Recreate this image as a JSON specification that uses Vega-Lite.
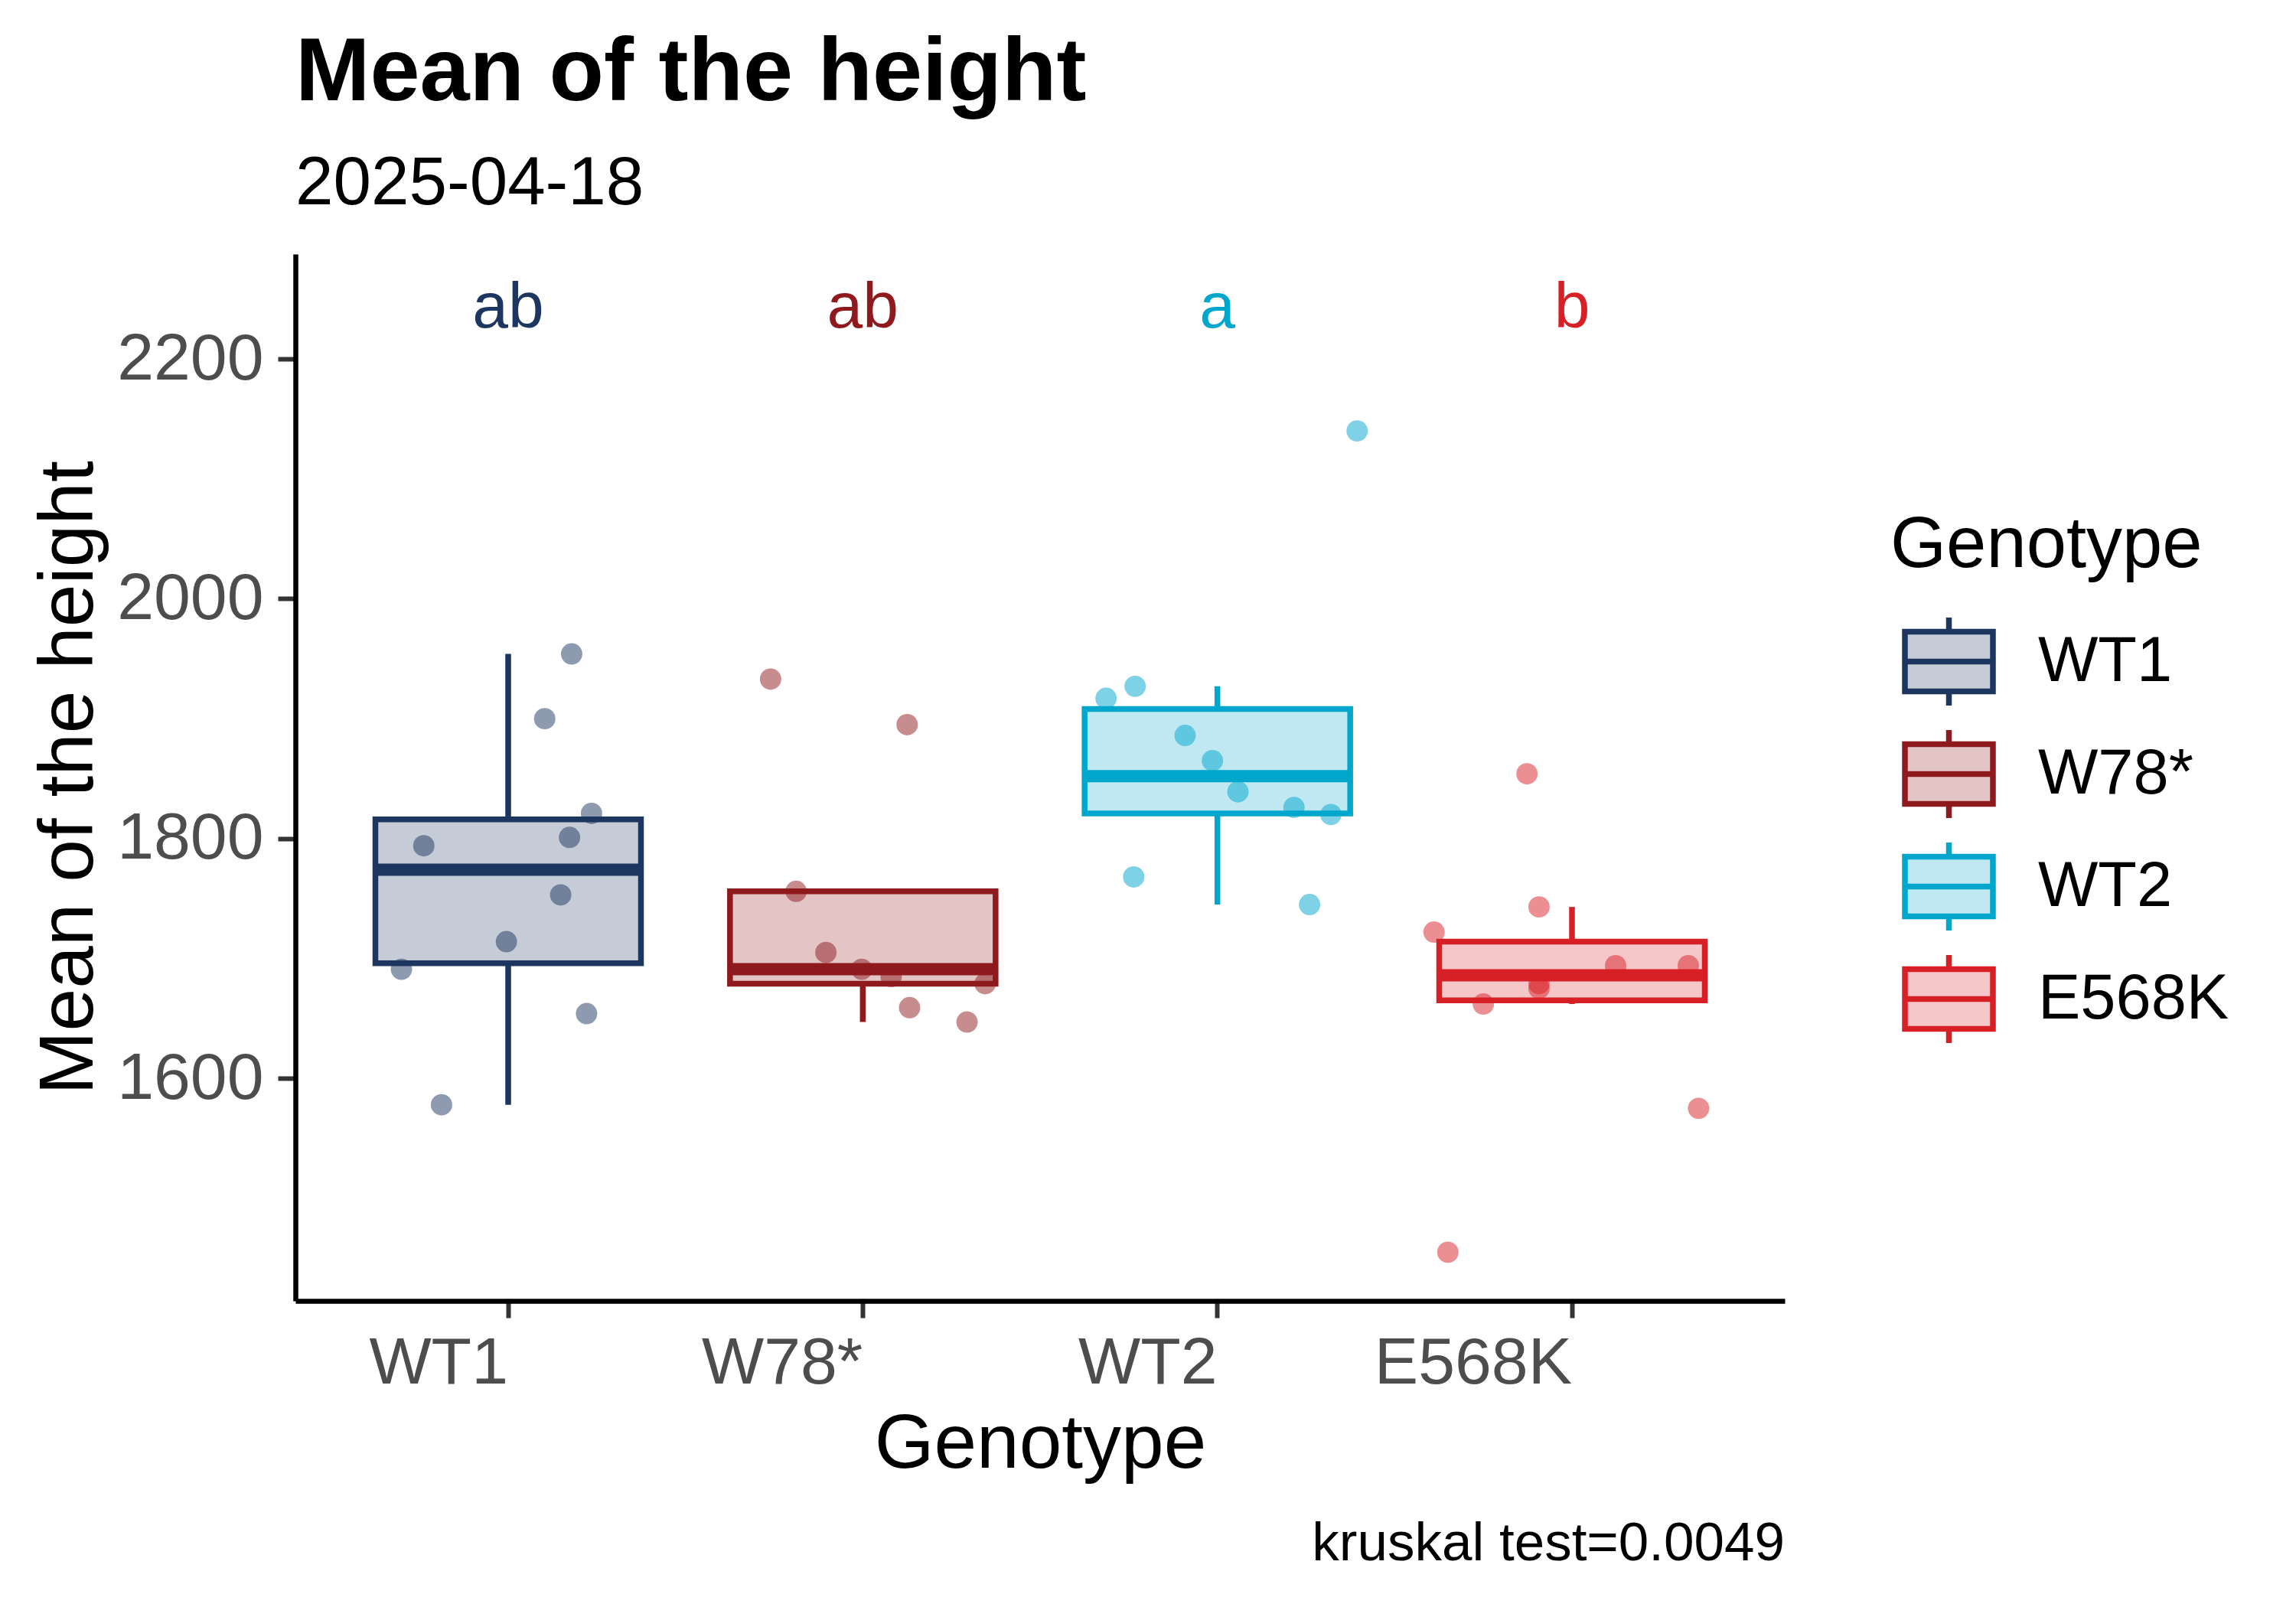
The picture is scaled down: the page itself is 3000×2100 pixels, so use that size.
{
  "$schema": "https://vega.github.io/schema/vega-lite/v6.json",
  "width": 1946,
  "height": 1368,
  "autosize": {"type": "none"},
  "padding": {"left": 386, "top": 332, "right": 668, "bottom": 400},
  "background": "#FFFFFF",
  "title": {
    "text": "Mean of the height",
    "subtitle": "2025-04-18",
    "anchor": "start",
    "frame": "group",
    "font": "Liberation Sans",
    "subtitleFont": "Liberation Sans",
    "fontSize": 117,
    "fontWeight": "bold",
    "subtitleFontSize": 89,
    "color": "#000000",
    "subtitleColor": "#000000",
    "offset": 45,
    "subtitlePadding": 41
  },
  "datasets": {
    "stats": [
      {"Genotype": "WT1", "lower": 1578, "q1": 1696, "median": 1774, "q3": 1816, "upper": 1954},
      {"Genotype": "W78*", "lower": 1647, "q1": 1679, "median": 1691, "q3": 1756, "upper": 1756},
      {"Genotype": "WT2", "lower": 1745, "q1": 1821, "median": 1852, "q3": 1908, "upper": 1927},
      {"Genotype": "E568K", "lower": 1662, "q1": 1665, "median": 1686, "q3": 1714, "upper": 1743}
    ],
    "points": [
      {"Genotype": "WT1", "jitter": 0.179, "height": 1954},
      {"Genotype": "WT1", "jitter": 0.103, "height": 1900},
      {"Genotype": "WT1", "jitter": 0.235, "height": 1821},
      {"Genotype": "WT1", "jitter": 0.173, "height": 1801},
      {"Genotype": "WT1", "jitter": -0.238, "height": 1794},
      {"Genotype": "WT1", "jitter": 0.148, "height": 1753},
      {"Genotype": "WT1", "jitter": -0.005, "height": 1714},
      {"Genotype": "WT1", "jitter": -0.301, "height": 1691},
      {"Genotype": "WT1", "jitter": 0.221, "height": 1654},
      {"Genotype": "WT1", "jitter": -0.188, "height": 1578},
      {"Genotype": "W78*", "jitter": -0.26, "height": 1933},
      {"Genotype": "W78*", "jitter": 0.125, "height": 1895},
      {"Genotype": "W78*", "jitter": -0.188, "height": 1756},
      {"Genotype": "W78*", "jitter": -0.104, "height": 1705},
      {"Genotype": "W78*", "jitter": -0.003, "height": 1691},
      {"Genotype": "W78*", "jitter": 0.08, "height": 1685},
      {"Genotype": "W78*", "jitter": 0.345, "height": 1679},
      {"Genotype": "W78*", "jitter": 0.132, "height": 1659},
      {"Genotype": "W78*", "jitter": 0.294, "height": 1647},
      {"Genotype": "WT2", "jitter": 0.394, "height": 2140},
      {"Genotype": "WT2", "jitter": -0.232, "height": 1927},
      {"Genotype": "WT2", "jitter": -0.314, "height": 1917},
      {"Genotype": "WT2", "jitter": -0.091, "height": 1886},
      {"Genotype": "WT2", "jitter": -0.014, "height": 1865},
      {"Genotype": "WT2", "jitter": 0.058, "height": 1839},
      {"Genotype": "WT2", "jitter": 0.216, "height": 1826},
      {"Genotype": "WT2", "jitter": 0.32, "height": 1820},
      {"Genotype": "WT2", "jitter": -0.236, "height": 1768},
      {"Genotype": "WT2", "jitter": 0.26, "height": 1745},
      {"Genotype": "E568K", "jitter": -0.127, "height": 1854},
      {"Genotype": "E568K", "jitter": -0.093, "height": 1743},
      {"Genotype": "E568K", "jitter": -0.389, "height": 1722},
      {"Genotype": "E568K", "jitter": 0.123, "height": 1694},
      {"Genotype": "E568K", "jitter": 0.328, "height": 1694},
      {"Genotype": "E568K", "jitter": -0.093, "height": 1679},
      {"Genotype": "E568K", "jitter": -0.093, "height": 1675},
      {"Genotype": "E568K", "jitter": -0.25, "height": 1662},
      {"Genotype": "E568K", "jitter": 0.357, "height": 1575},
      {"Genotype": "E568K", "jitter": -0.35, "height": 1455}
    ],
    "letters": [
      {"Genotype": "WT1", "letter": "ab", "height": 2226.5},
      {"Genotype": "W78*", "letter": "ab", "height": 2226.5},
      {"Genotype": "WT2", "letter": "a", "height": 2226.5},
      {"Genotype": "E568K", "letter": "b", "height": 2226.5}
    ],
    "notes": [
      {"Genotype": "E568K", "note": "kruskal test=0.0049", "height": 1198}
    ]
  },
  "encoding": {
    "x": {
      "field": "Genotype",
      "type": "nominal",
      "sort": ["WT1", "W78*", "WT2", "E568K"],
      "scale": {"paddingInner": 0, "paddingOuter": 0.1},
      "axis": {
        "title": "Genotype",
        "titleFont": "Liberation Sans",
        "titleFontSize": 100,
        "titleFontWeight": "normal",
        "titleColor": "#000000",
        "titlePadding": 14,
        "labelFont": "Liberation Sans",
        "labelFontSize": 86,
        "labelColor": "#4D4D4D",
        "labelAngle": 0,
        "labelAlign": "right",
        "labelPadding": 17,
        "labelLimit": 0,
        "tickSize": 22,
        "tickWidth": 6,
        "tickColor": "#333333",
        "domainColor": "#000000",
        "domainWidth": 6.5,
        "grid": false
      }
    }
  },
  "layer": [
    {
      "data": {"name": "stats"},
      "mark": {"type": "rule", "strokeWidth": 7.5},
      "encoding": {
        "y": {
          "field": "lower",
          "type": "quantitative",
          "scale": {"domain": [1414.4, 2287.5], "nice": false, "zero": false},
          "axis": {
            "title": "Mean of the height",
            "values": [1600, 1800, 2000, 2200],
            "format": "d",
            "titleFont": "Liberation Sans",
            "titleFontSize": 100,
            "titleFontWeight": "normal",
            "titleColor": "#000000",
            "titleX": -266,
            "titleY": 684,
            "titleAngle": -90,
            "titleAlign": "center",
            "titleBaseline": "alphabetic",
            "labelFont": "Liberation Sans",
            "labelFontSize": 86,
            "labelColor": "#4D4D4D",
            "labelPadding": 19,
            "labelLimit": 0,
            "tickSize": 23,
            "tickWidth": 6,
            "tickColor": "#333333",
            "domainColor": "#000000",
            "domainWidth": 6.5,
            "grid": false
          }
        },
        "y2": {"field": "upper"},
        "color": {
          "field": "Genotype",
          "type": "nominal",
          "scale": {"domain": ["E568K", "WT2", "W78*", "WT1"], "range": ["#D71F26", "#00A6CB", "#8E1A1E", "#1D365F"]},
          "legend": null
        }
      }
    },
    {
      "data": {"name": "stats"},
      "mark": {"type": "bar", "width": 347, "strokeWidth": 7.5},
      "encoding": {
        "y": {"field": "q1", "type": "quantitative"},
        "y2": {"field": "q3"},
        "fill": {
          "field": "Genotype",
          "type": "nominal",
          "sort": ["WT1", "W78*", "WT2", "E568K"],
          "scale": {"domain": ["WT1", "W78*", "WT2", "E568K"], "range": ["#C6CCD7", "#E3C5C6", "#BFE8F2", "#F5C7C9"]},
          "legend": {
            "title": "Genotype",
            "orient": "none",
            "legendX": 2084,
            "legendY": 335,
            "padding": 0,
            "symbolType": "M-1,-0.68H1V0.68H-1Z M0,-1V-0.68 M0,0.68V1 M-1,0H1",
            "symbolSize": 13225,
            "symbolStrokeWidth": 7.5,
            "symbolOffset": 15,
            "labelOffset": 55,
            "rowPadding": 2,
            "titlePadding": 42,
            "titleFont": "Liberation Sans",
            "titleFontSize": 94,
            "titleFontWeight": "normal",
            "titleColor": "#000000",
            "titleLimit": 0,
            "labelFont": "Liberation Sans",
            "labelFontSize": 83,
            "labelColor": "#000000",
            "labelLimit": 0
          }
        },
        "stroke": {
          "field": "Genotype",
          "type": "nominal",
          "sort": ["WT1", "W78*", "WT2", "E568K"],
          "scale": {"domain": ["WT1", "W78*", "WT2", "E568K"], "range": ["#1D365F", "#8E1A1E", "#00A6CB", "#D71F26"]},
          "legend": {
            "title": "Genotype",
            "orient": "none",
            "legendX": 2084,
            "legendY": 335,
            "padding": 0,
            "symbolType": "M-1,-0.68H1V0.68H-1Z M0,-1V-0.68 M0,0.68V1 M-1,0H1",
            "symbolSize": 13225,
            "symbolStrokeWidth": 7.5,
            "symbolOffset": 15,
            "labelOffset": 55,
            "rowPadding": 2,
            "titlePadding": 42,
            "titleFont": "Liberation Sans",
            "titleFontSize": 94,
            "titleFontWeight": "normal",
            "titleColor": "#000000",
            "titleLimit": 0,
            "labelFont": "Liberation Sans",
            "labelFontSize": 83,
            "labelColor": "#000000",
            "labelLimit": 0
          }
        }
      }
    },
    {
      "data": {"name": "stats"},
      "mark": {"type": "tick", "size": 347, "thickness": 16, "opacity": 1},
      "encoding": {
        "y": {"field": "median", "type": "quantitative"},
        "color": {"field": "Genotype", "type": "nominal", "legend": null}
      }
    },
    {
      "data": {"name": "points"},
      "mark": {"type": "circle", "size": 780, "opacity": 0.5},
      "encoding": {
        "xOffset": {"field": "jitter", "type": "quantitative", "scale": {"domain": [-0.5, 0.5]}},
        "y": {"field": "height", "type": "quantitative"},
        "color": {"field": "Genotype", "type": "nominal", "legend": null}
      }
    },
    {
      "data": {"name": "letters"},
      "mark": {"type": "text", "font": "Liberation Sans", "fontSize": 84, "align": "center", "baseline": "alphabetic"},
      "encoding": {
        "y": {"field": "height", "type": "quantitative"},
        "text": {"field": "letter"},
        "color": {"field": "Genotype", "type": "nominal", "legend": null}
      }
    },
    {
      "data": {"name": "notes"},
      "mark": {"type": "text", "font": "Liberation Sans", "fontSize": 71, "align": "right", "baseline": "alphabetic", "color": "#000000"},
      "encoding": {
        "x": {"field": "Genotype", "type": "nominal", "sort": ["WT1", "W78*", "WT2", "E568K"], "bandPosition": 1.1},
        "y": {"field": "height", "type": "quantitative"},
        "text": {"field": "note"}
      }
    }
  ],
  "config": {
    "view": {"stroke": null},
    "font": "Liberation Sans"
  }
}
